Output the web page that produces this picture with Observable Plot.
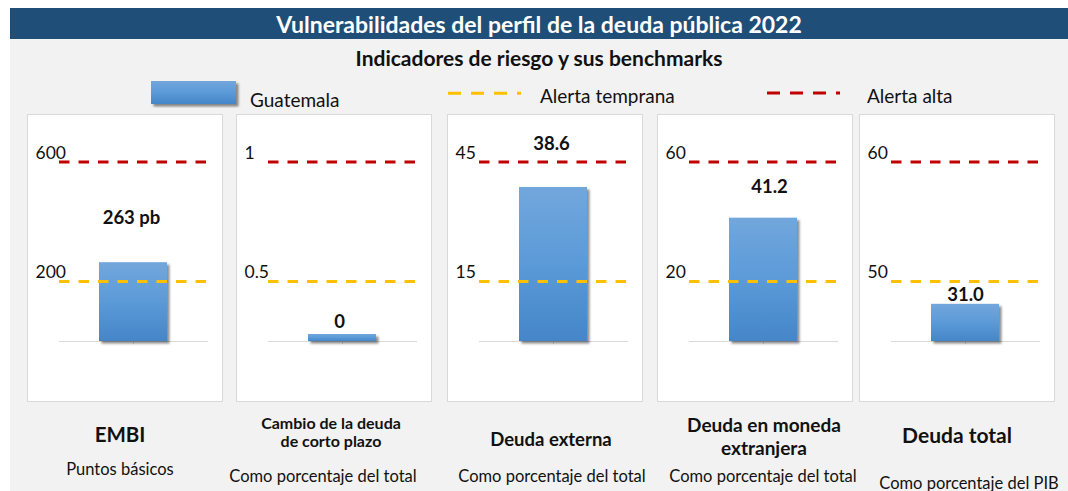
<!DOCTYPE html>
<html>
<head>
<meta charset="utf-8">
<script src="https://cdn.jsdelivr.net/npm/d3@7"></script>
<script src="https://cdn.jsdelivr.net/npm/@observablehq/plot@0.6"></script>
<style>
  html, body { margin: 0; padding: 0; }
  body { width: 1068px; height: 491px; position: relative; overflow: hidden; background: #ffffff; font-family: Lato, "Open Sans", sans-serif; color: #111; }
  .bg { position: absolute; left: 10px; top: 39px; width: 1058px; height: 452px; background: #f2f2f2; }
  .titlebar { position: absolute; left: 10px; top: 8px; width: 1058px; height: 31px; background: #1f4e79; }
  .abs { position: absolute; white-space: nowrap; line-height: 1; }
  .ctr { transform: translate(-50%, -50%); }
  .vmid { transform: translate(0, -50%); }
  .panel { position: absolute; background: #ffffff; border: 1px solid #d9d9d9; box-sizing: border-box; }
  .panel svg { display: block; }
</style>
</head>
<body>
<div class="bg"></div>
<div class="titlebar"></div>
<svg width="0" height="0" style="position:absolute">
  <defs>
    <linearGradient id="barGrad" x1="0" y1="0" x2="0" y2="1">
      <stop offset="0" stop-color="#72a7dc"/>
      <stop offset="0.5" stop-color="#5b9ad8"/>
      <stop offset="1" stop-color="#4486c8"/>
    </linearGradient>
    <filter id="barShadow" x="-0.2" y="-1" width="1.5" height="3">
      <feDropShadow dx="2.5" dy="2.5" stdDeviation="1.3" flood-color="#000" flood-opacity="0.45"/>
    </filter>
  </defs>
</svg>
<div id="root"></div>
<script>
// ---------- data ----------
const chartTitle = "Vulnerabilidades del perfil de la deuda pública 2022";
const chartSubtitle = "Indicadores de riesgo y sus benchmarks";
const seriesName = "Guatemala";
const earlyName = "Alerta temprana";
const highName = "Alerta alta";

const indicators = ["EMBI", "Cambio de la deuda de corto plazo", "Deuda externa", "Deuda en moneda extranjera", "Deuda total"];
const indicatorLines = [["EMBI"], ["Cambio de la deuda", "de corto plazo"], ["Deuda externa"], ["Deuda en moneda", "extranjera"], ["Deuda total"]];
const units = ["Puntos básicos", "Como porcentaje del total", "Como porcentaje del total", "Como porcentaje del total", "Como porcentaje del PIB"];
const values = [263, 0, 38.6, 41.2, 31.0];
const valueLabels = ["263 pb", "0", "38.6", "41.2", "31.0"];
const earlyAlert = [200, 0.5, 15, 20, 50];
const highAlert = [600, 1, 45, 60, 60];

// ---------- layout / style (not data) ----------
const panelLeft = [27, 236, 447, 657, 859];
const panelTop = 114, panelW = 196, panelH = 288;
const labelDy = [-45, -19, -43, -31, -9];
const labelDx = [-2, -3, -2, 6, 0];
const minBar = [0, 7, 0, 0, 0];
const nameCenter = [[120, 434], [331, 432], [551, 439], [764, 435], [957, 434]];
const nameSize = [20.5, 16, 18.5, 19, 21];
const nameLineGap = [0, 17.5, 0, 23, 0];
const unitCenter = [[120, 469], [323, 476], [552, 476], [763, 476], [969, 483]];
const RED = "#c00000", YELLOW = "#ffc000";

const root = document.getElementById("root");
function addText(txt, x, y, css, cls = "abs ctr") {
  const d = document.createElement("div");
  d.className = cls;
  d.textContent = txt;
  d.style.left = x + "px";
  d.style.top = y + "px";
  Object.assign(d.style, css);
  root.appendChild(d);
  return d;
}

// titles
addText(chartTitle, 539, 24, {color: "#ffffff", fontWeight: "bold", fontSize: "23px"});
addText(chartSubtitle, 539, 57, {fontWeight: "bold", fontSize: "21px"});

// legend
const legend = document.createElementNS("http://www.w3.org/2000/svg", "svg");
legend.setAttribute("width", 1068); legend.setAttribute("height", 30);
legend.style.position = "absolute"; legend.style.left = "0px"; legend.style.top = "78px";
legend.innerHTML = `
  <rect x="151" y="3" width="85" height="23" fill="url(#barGrad)" filter="url(#barShadow)"/>
  <line x1="448" x2="521" y1="15.3" y2="15.3" stroke="${YELLOW}" stroke-width="3" stroke-dasharray="13,10"/>
  <line x1="767" x2="840" y1="15" y2="15" stroke="${RED}" stroke-width="3" stroke-dasharray="13,10"/>`;
root.appendChild(legend);
addText(seriesName, 250, 99, {fontSize: "19px"}, "abs vmid");
addText(earlyName, 540, 95, {fontSize: "19px"}, "abs vmid");
addText(highName, 867, 95, {fontSize: "19px"}, "abs vmid");

// panels
indicators.forEach((name, i) => {
  const panel = document.createElement("div");
  panel.className = "panel";
  panel.style.left = panelLeft[i] + "px";
  panel.style.top = panelTop + "px";
  panel.style.width = panelW + "px";
  panel.style.height = panelH + "px";
  root.appendChild(panel);

  const rows = [{name, value: values[i], label: valueLabels[i]}];
  const thresholds = [{v: earlyAlert[i], c: YELLOW}, {v: highAlert[i], c: RED}];

  const chart = Plot.plot({
    width: panelW - 2,
    height: panelH - 2,
    marginLeft: 31, marginRight: 14, marginTop: 0, marginBottom: 60,
    style: {fontFamily: "Lato, 'Open Sans', sans-serif", background: "transparent", overflow: "visible"},
    x: {type: "band", domain: [name], padding: 0.367, axis: null},
    y: {type: "linear", domain: [0, earlyAlert[i], highAlert[i]], range: [226, 166, 46.5], axis: null},
    marks: [
      Plot.ruleY([0], {stroke: "#d9d9d9", strokeWidth: 1}),
      Plot.ruleX(rows, {x: "name", y1: 0, y2: 0, stroke: "#d9d9d9", insetBottom: -3}),
      Plot.barY(rows, {x: "name", y: "value", fill: "url(#barGrad)", insetTop: -minBar[i]}),
      Plot.ruleY(thresholds, {y: "v", stroke: "c", strokeWidth: 3, strokeDasharray: "10.5,9", insetRight: 2}),
      Plot.text(thresholds, {y: "v", text: d => String(d.v), frameAnchor: "left", textAnchor: "start", dx: -24, dy: -9, fontSize: 17.5, fill: "#111"}),
      Plot.text(rows, {x: "name", y: "value", text: "label", dy: labelDy[i], dx: labelDx[i], fontSize: 18.5, fontWeight: "bold", fill: "#111"})
    ]
  });
  d3.select(chart).selectAll("g[aria-label='bar'] rect").attr("filter", "url(#barShadow)");
  panel.appendChild(chart);

  // indicator name and units below
  const lines = indicatorLines[i];
  lines.forEach((ln, k) => {
    const off = (k - (lines.length - 1) / 2) * nameLineGap[i];
    addText(ln, nameCenter[i][0], nameCenter[i][1] + off, {fontWeight: "bold", fontSize: nameSize[i] + "px"});
  });
  addText(units[i], unitCenter[i][0], unitCenter[i][1], {fontSize: "16.5px"});
});
</script>
</body>
</html>
